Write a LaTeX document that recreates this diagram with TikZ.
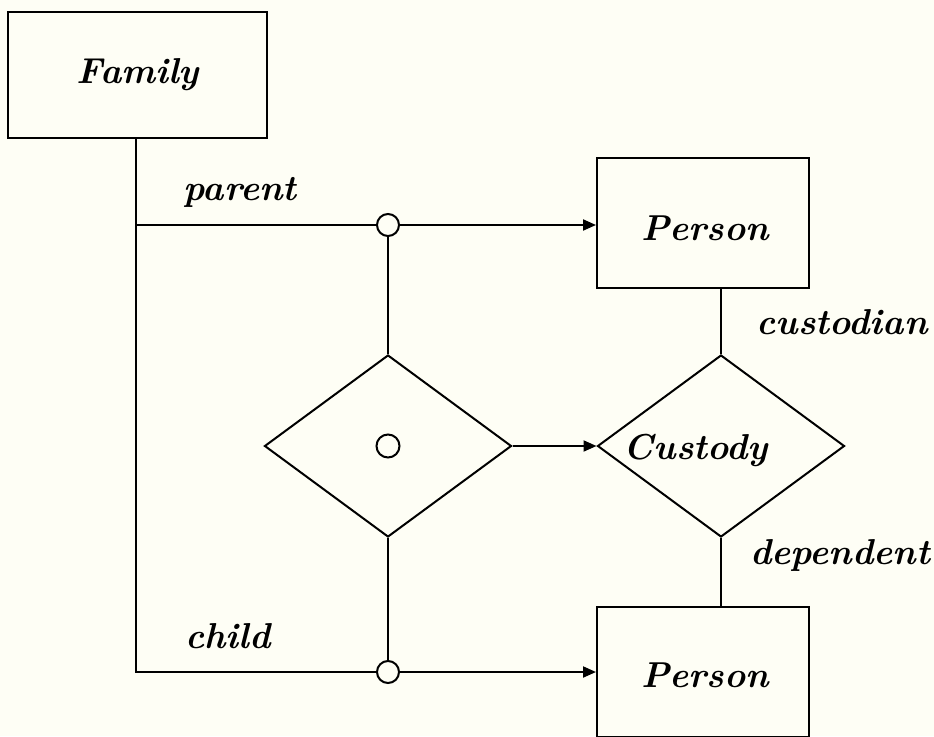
\documentclass[tikz,border=0pt]{standalone}
\usetikzlibrary{shapes.geometric,arrows.meta}
\definecolor{paper}{RGB}{254,254,245}
\begin{document}
\begin{tikzpicture}[x=1pt,y=-1pt,
  line width=2pt,
  lbl/.style={font=\fontsize{36}{42}\selectfont\bfseries\itshape, inner sep=0pt},
  entity/.style={draw, rectangle, inner sep=0pt},
  rel/.style={draw, diamond, inner sep=0pt, minimum width=247pt, minimum height=182pt},
  junction/.style={draw, circle, fill=paper, inner sep=0pt, minimum size=22pt},
  tip/.style={-{Triangle[length=13pt,width=11pt]}}]
  % canvas
  \fill[paper] (0,0) rectangle (934,736);
  \useasboundingbox (0,0) rectangle (934,736);

  % entities
  \node[entity, minimum width=259pt, minimum height=126pt] (family) at (137.5,75) {};
  \node[entity, minimum width=212pt, minimum height=130pt] (person1) at (703,223) {};
  \node[entity, minimum width=212pt, minimum height=130pt] (person2) at (703,672) {};

  % relationships
  \node[rel] (agg) at (388,446) {};
  \node[rel] (custody) at (721,446) {};

  % junction circles
  \node[junction] (jp) at (388,225) {};
  \node[junction] (jc) at (388,672) {};
  \node[junction, fill=none, minimum size=23pt] (jm) at (388,446) {};

  % Family trunk and its two roles
  \coordinate (corner1) at (136,225);
  \coordinate (corner2) at (136,672);
  \draw (family.south -| corner1) -- (corner2) -- (jc.west);
  \draw (corner1) -- (jp.west);
  \draw[tip] (jp.east) -- (person1.west |- jp.east);
  \draw[tip] (jc.east) -- (person2.west |- jc.east);

  % links between circles and the aggregate diamond
  \draw (jp.south) -- (agg.north);
  \draw (agg.south) -- (jc.north);
  \draw[tip] (agg.east) -- (custody.west);

  % custody roles
  \draw (custody.north) -- (person1.south -| custody.north);
  \draw (custody.south) -- (person2.north -| custody.south);

  % text
  \node[lbl] (tfamily) at (138,75) {Family};
  \node[lbl] (tperson1) at (705,228) {Person};
  \node[lbl] (tperson2) at (705,675) {Person};
  \node[lbl] (tcustody) at (696,450) {Custody};
  \node[lbl] (tparent) at (240,192) {parent};
  \node[lbl] (tchild) at (228,636) {child};
  \node[lbl] (tcustodian) at (842,322) {custodian};
  \node[lbl, anchor=east] (tdependent) at (931,555) {dependent};
\end{tikzpicture}
\end{document}
